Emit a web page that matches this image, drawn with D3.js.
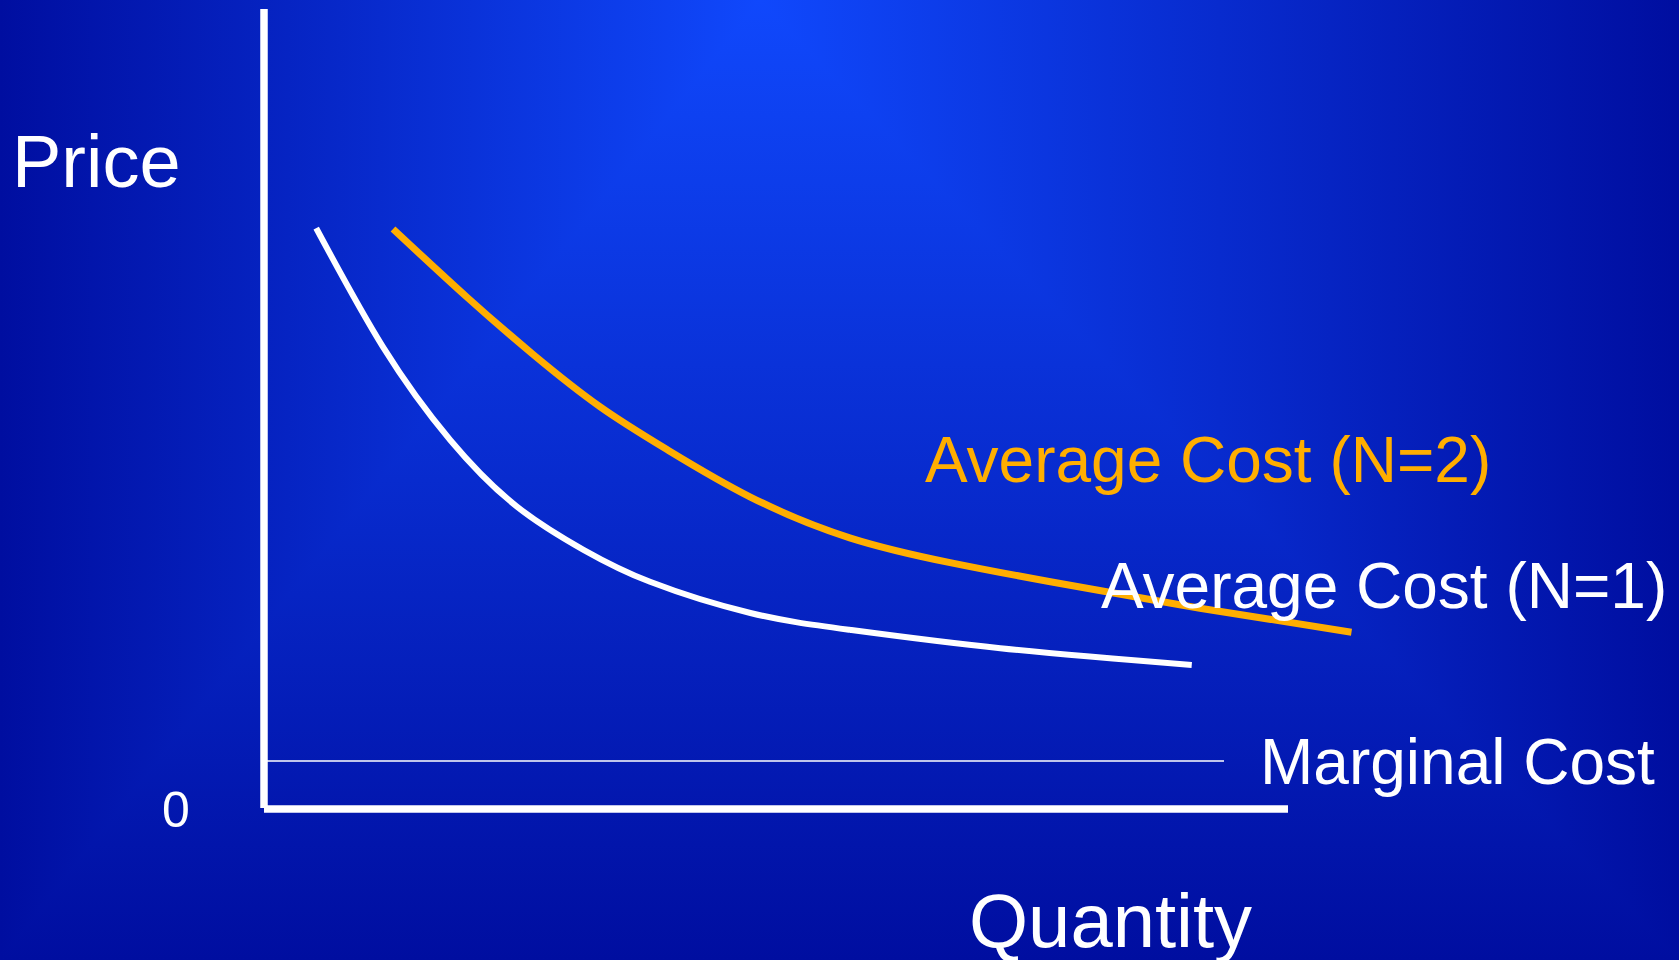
<!DOCTYPE html>
<html>
<head>
<meta charset="utf-8">
<script src="https://cdn.jsdelivr.net/npm/d3@7"></script>
<style>
  html, body { margin: 0; padding: 0; background: #0010a0; overflow: hidden; }
  svg { display: block; }
  text { font-family: "Liberation Sans", Arial, Helvetica, sans-serif; }
</style>
</head>
<body>
<svg id="chart" width="1679" height="960"></svg>
<script>
// Average cost per firm, one firm in the market (quantity, price)
const acOneQty   = [5.1, 11.6, 18.2, 24.7, 31.2, 37.7, 47.5, 57.2, 71.9, 90.6];
const acOnePrice = [72.6, 57.8, 46.1, 37.8, 32.4, 28.4, 24.5, 22.4, 20.1, 18.0];

// Average cost per firm, two firms in the market
const acTwoQty   = [12.6, 19.8, 26.3, 32.8, 39.4, 47.5, 57.2, 67.0, 76.8, 91.4, 106.2];
const acTwoPrice = [72.5, 64.0, 56.8, 50.3, 44.9, 39.0, 33.9, 30.8, 28.4, 25.1, 22.1];

// Constant marginal cost
const mcQty   = [0, 93.75];
const mcPrice = [6, 6];

// Axis extents and labels
const qtyDomain   = [0, 100];
const priceDomain = [0, 100];
const originLabel = "0";
const xTitle = "Quantity";
const yTitle = "Price";
const seriesLabels = ["Average Cost (N=2)", "Average Cost (N=1)", "Marginal Cost"];

const W = 1679, H = 960;
const svg = d3.select("#chart");

// ---- background: rectangular gradient radiating from the top edge ----
const cx = 760;
const bright = "#1048fc", dark = "#000ea0";
const defs = svg.append("defs");
function lin(id, x1, y1, x2, y2) {
  const g = defs.append("linearGradient").attr("id", id)
    .attr("gradientUnits", "userSpaceOnUse")
    .attr("x1", x1).attr("y1", y1).attr("x2", x2).attr("y2", y2);
  g.append("stop").attr("offset", 0).attr("stop-color", bright);
  g.append("stop").attr("offset", 1).attr("stop-color", dark);
}
lin("bgLeft", cx, 0, 0, 0);
lin("bgRight", cx, 0, W, 0);
lin("bgDown", 0, 0, 0, H);
const bg = svg.append("g").attr("shape-rendering", "crispEdges");
bg.append("polygon").attr("points", `0,0 ${cx},0 0,${H}`).attr("fill", "url(#bgLeft)");
bg.append("polygon").attr("points", `${cx},0 ${W},0 ${W},${H}`).attr("fill", "url(#bgRight)");
bg.append("polygon").attr("points", `${cx},0 ${W},${H} 0,${H}`).attr("fill", "url(#bgDown)");

// ---- scales ----
const x = d3.scaleLinear().domain(qtyDomain).range([264, 1288]);
const y = d3.scaleLinear().domain(priceDomain).range([809, 9]);

const zip = (qs, ps) => qs.map((q, i) => [q, ps[i]]);
const curve = d3.line().x(d => x(d[0])).y(d => y(d[1])).curve(d3.curveNatural);
const straight = d3.line().x(d => x(d[0])).y(d => y(d[1]));

// marginal cost
svg.append("path")
  .attr("d", straight(zip(mcQty, mcPrice)))
  .attr("fill", "none").attr("stroke", "#ffffff").attr("stroke-width", 1.6);

// average cost curves
svg.append("path")
  .attr("d", curve(zip(acOneQty, acOnePrice)))
  .attr("fill", "none").attr("stroke", "#ffffff").attr("stroke-width", 6);

svg.append("path")
  .attr("d", curve(zip(acTwoQty, acTwoPrice)))
  .attr("fill", "none").attr("stroke", "#ffae00").attr("stroke-width", 7);

// ---- axes ----
svg.append("line")
  .attr("x1", x(qtyDomain[0])).attr("x2", x(qtyDomain[0]))
  .attr("y1", y(priceDomain[1])).attr("y2", y(priceDomain[0]) - 1)
  .attr("stroke", "#ffffff").attr("stroke-width", 7.5);
svg.append("line")
  .attr("x1", x(qtyDomain[0])).attr("x2", x(qtyDomain[1]))
  .attr("y1", y(priceDomain[0])).attr("y2", y(priceDomain[0]))
  .attr("stroke", "#ffffff").attr("stroke-width", 7.5);

// ---- text ----
svg.append("text").attr("x", 12).attr("y", 187)
  .attr("font-size", 74).attr("fill", "#ffffff").text(yTitle);
svg.append("text").attr("x", 162).attr("y", 827)
  .attr("font-size", 50).attr("fill", "#ffffff").text(originLabel);
svg.append("text").attr("x", 969).attr("y", 947)
  .attr("font-size", 76).attr("fill", "#ffffff").text(xTitle);

svg.append("text").attr("x", 925).attr("y", 482)
  .attr("font-size", 64).attr("fill", "#ffae00").text(seriesLabels[0]);
svg.append("text").attr("x", 1101).attr("y", 608)
  .attr("font-size", 64).attr("fill", "#ffffff").text(seriesLabels[1]);
svg.append("text").attr("x", 1260).attr("y", 784)
  .attr("font-size", 64).attr("fill", "#ffffff").text(seriesLabels[2]);
</script>
</body>
</html>
